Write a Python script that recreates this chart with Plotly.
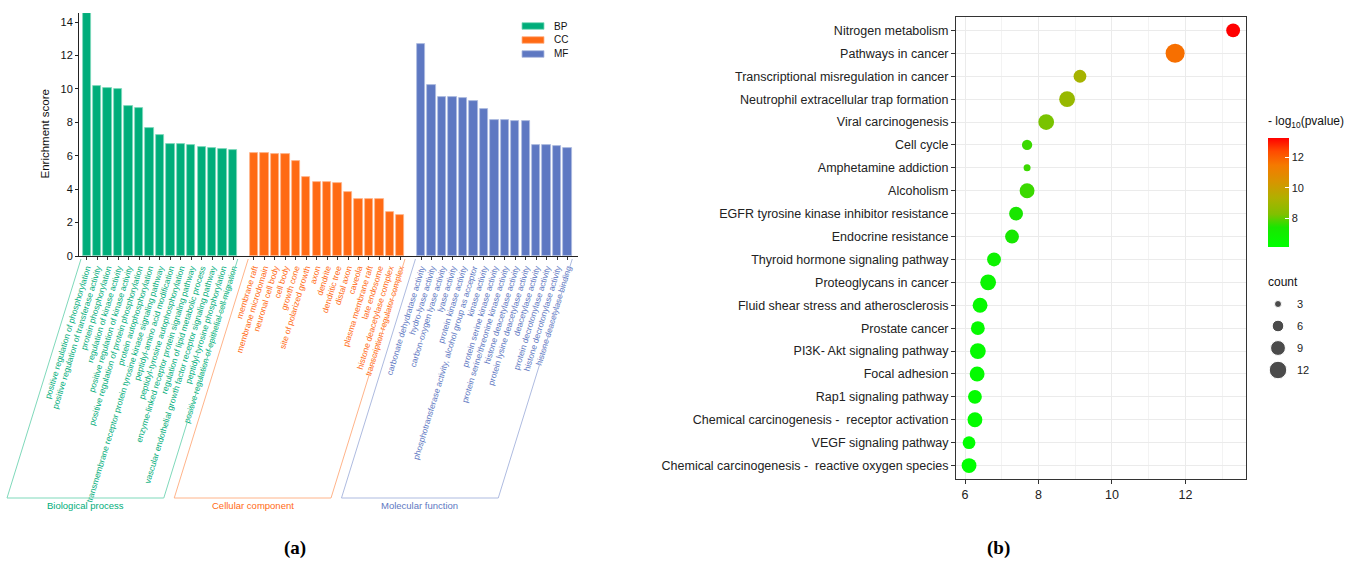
import numpy as np
import plotly.graph_objects as go

W, H = 1362, 564
FONT = "Liberation Sans, Arial, sans-serif"

# ---------------- (a) GO enrichment ----------------
bp_terms = [
    "positive regulation of phosphorylation",
    "positive regulation of transferase activity",
    "protein phosphorylation",
    "regulation of kinase activity",
    "positive regulation of kinase activity",
    "positive regulation of protein phosphorylation",
    "protein autophosphorylation",
    "transmembrane receptor protein tyrosine kinase signaling pathway",
    "peptidyl-amino acid modification",
    "peptidyl-tyrosine autophosphorylation",
    "enzyme-linked receptor protein signaling pathway",
    "regulation of lipid metabolic process",
    "vascular endothelial growth factor receptor signaling pathway",
    "peptidyl-tyrosine phosphorylation",
    "positive regulation of epithelial cell migration",
]
bp_scores = [14.54, 10.19, 10.07, 9.97, 8.99, 8.87, 7.63, 7.23, 6.69, 6.69, 6.65, 6.53, 6.45, 6.43, 6.37]

cc_terms = [
    "membrane raft",
    "membrane microdomain",
    "neuronal cell body",
    "cell body",
    "growth cone",
    "site of polarized growth",
    "axon",
    "dendrite",
    "dendritic tree",
    "distal axon",
    "caveola",
    "plasma membrane raft",
    "late endosome",
    "histone deacetylase complex",
    "transcription regulator complex",
]
cc_scores = [6.17, 6.17, 6.11, 6.11, 5.67, 4.73, 4.45, 4.43, 4.35, 3.83, 3.42, 3.42, 3.40, 2.64, 2.44]

mf_terms = [
    "carbonate dehydratase activity",
    "hydro-lyase activity",
    "carbon-oxygen lyase activity",
    "lyase activity",
    "protein kinase activity",
    "phosphotransferase activity, alcohol group as acceptor",
    "kinase activity",
    "protein serine kinase activity",
    "protein serine/threonine kinase activity",
    "histone deacetylase activity",
    "protein lysine deacetylase activity",
    "deacetylase activity",
    "protein decrotonylase activity",
    "histone decrotonylase activity",
    "histone deacetylase binding",
]
mf_scores = [12.70, 10.25, 9.49, 9.49, 9.45, 9.27, 8.79, 8.15, 8.15, 8.09, 8.09, 6.65, 6.65, 6.59, 6.49]

groups = [
    ("BP", "Biological process", bp_terms, bp_scores, "#00AD7A", "#7fd9bb"),
    ("CC", "Cellular component", cc_terms, cc_scores, "#FF6A14", "#ffb48a"),
    ("MF", "Molecular function", mf_terms, mf_scores, "#5E78C2", "#aebbe0"),
]

# ---------------- (b) KEGG dot plot ----------------
kegg_terms = [
    "Nitrogen metabolism",
    "Pathways in cancer",
    "Transcriptional misregulation in cancer",
    "Neutrophil extracellular trap formation",
    "Viral carcinogenesis",
    "Cell cycle",
    "Amphetamine addiction",
    "Alcoholism",
    "EGFR tyrosine kinase inhibitor resistance",
    "Endocrine resistance",
    "Thyroid hormone signaling pathway",
    "Proteoglycans in cancer",
    "Fluid shear stress and atherosclerosis",
    "Prostate cancer",
    "PI3K- Akt signaling pathway",
    "Focal adhesion",
    "Rap1 signaling pathway",
    "Chemical carcinogenesis - \u00a0receptor activation",
    "VEGF signaling pathway",
    "Chemical carcinogenesis - \u00a0reactive oxygen species",
]
kegg_neglog10p = [13.30, 11.72, 9.13, 8.78, 8.21, 7.69, 7.69, 7.69, 7.39, 7.28,
                  6.79, 6.63, 6.41, 6.35, 6.35, 6.33, 6.27, 6.27, 6.11, 6.11]
kegg_count = [8, 14, 7, 10, 10, 5, 3, 9, 8, 8, 8, 10, 9, 8, 10, 9, 8, 9, 7, 9]
count_breaks = [3, 6, 9, 12]

green_red = [
    [0.00, "#00FF00"], [0.18, "#19E600"], [0.30, "#80C000"], [0.45, "#B0B000"],
    [0.60, "#D89400"], [0.75, "#F57A00"], [0.88, "#FF4A00"], [1.00, "#FF0000"],
]


def dot_diameter(c):
    c = np.asarray(c, dtype=float)
    return np.sqrt(49 + (c - 3) * 28.6)


def px_x(p):
    return p / W


def px_y(p):
    return 1 - p / H


fig = go.Figure()

# ---- bars ----
positions = []
pos = 0
for key, gname, terms, scores, col, edge in groups:
    xs = list(range(pos, pos + len(terms)))
    positions.append(xs)
    fig.add_trace(go.Bar(
        x=xs, y=scores, width=0.8, name=key, showlegend=False,
        marker=dict(color=col, line=dict(color=edge, width=0.8)),
        xaxis="x", yaxis="y",
    ))
    pos += len(terms) + 1

tickvals, ticktext = [], []
for (key, gname, terms, scores, col, edge), xs in zip(groups, positions):
    tickvals += xs
    ticktext += [f'<span style="color:{col}">{t}</span>' for t in terms]

# bar axis geometry (pixels)
AX0, AX1 = 79, 578
XR = (-0.74, 47.0)
AY_TOP, AY_BOT = 13, 256


def bar_px(v):
    return AX0 + (v - XR[0]) / (XR[1] - XR[0]) * (AX1 - AX0)


# group brackets under the rotated labels
TOP_Y, BOT_Y = 259, 498
SLANT = (BOT_Y - TOP_Y) / np.tan(np.radians(72.8))
shapes = []
annotations = []
for (key, gname, terms, scores, col, edge), xs in zip(groups, positions):
    tl = bar_px(xs[0] - 0.55)
    tr = bar_px(xs[-1] + 0.45)
    bl, br = tl - SLANT, tr - SLANT
    path = (f"M {px_x(tl)},{px_y(TOP_Y)} L {px_x(bl)},{px_y(BOT_Y)} "
            f"L {px_x(br)},{px_y(BOT_Y)} L {px_x(tr)},{px_y(TOP_Y)}")
    shapes.append(dict(type="path", xref="paper", yref="paper", path=path,
                       line=dict(color=edge, width=1)))
    annotations.append(dict(xref="paper", yref="paper", x=px_x((bl + br) / 2), y=px_y(505),
                            text=gname, showarrow=False, xanchor="center", yanchor="middle",
                            font=dict(family=FONT, size=9.5, color=col)))

# manual legend for the bar groups
for i, (key, gname, terms, scores, col, edge) in enumerate(groups):
    yc = 26 + i * 14
    shapes.append(dict(type="rect", xref="paper", yref="paper",
                       x0=px_x(522), x1=px_x(544), y0=px_y(yc - 3.3), y1=px_y(yc + 3.3),
                       fillcolor=col, line=dict(color=edge, width=0.8)))
    annotations.append(dict(xref="paper", yref="paper", x=px_x(552), y=px_y(yc), text=key,
                            showarrow=False, xanchor="left", yanchor="middle",
                            font=dict(family=FONT, size=10, color="#111111")))

annotations.append(dict(xref="paper", yref="paper", x=px_x(45), y=px_y((AY_TOP + AY_BOT) / 2),
                        text="Enrichment score", textangle=-90, showarrow=False,
                        xanchor="center", yanchor="middle",
                        font=dict(family=FONT, size=11.5, color="#111111")))

# ---- dots ----
fig.add_trace(go.Scatter(
    x=kegg_neglog10p, y=kegg_terms, mode="markers", showlegend=False,
    xaxis="x2", yaxis="y2",
    marker=dict(
        size=dot_diameter(kegg_count), sizemode="diameter",
        color=kegg_neglog10p, colorscale=green_red,
        cmin=min(kegg_neglog10p), cmax=max(kegg_neglog10p),
        line=dict(width=0), opacity=1,
        colorbar=dict(
            x=px_x(1268), xanchor="left", y=px_y(192.2), yanchor="middle",
            thickness=21, thicknessmode="pixels", len=109, lenmode="pixels",
            xpad=0, ypad=0, outlinewidth=0,
            tickvals=[8, 10, 12], ticks="inside", ticklen=4, tickcolor="white",
            tickfont=dict(family=FONT, size=11, color="#222222"),
        ),
    ),
))

# size legend
fig.add_trace(go.Scatter(
    x=[0] * len(count_breaks), y=list(range(len(count_breaks))), mode="markers",
    showlegend=False, xaxis="x3", yaxis="y3", hoverinfo="skip",
    marker=dict(size=dot_diameter(count_breaks), sizemode="diameter", color="black"),
))
for i, c in enumerate(count_breaks):
    annotations.append(dict(xref="paper", yref="y3", x=px_x(1295), y=i, text=str(c),
                            showarrow=False, xanchor="left", yanchor="middle",
                            font=dict(family=FONT, size=11, color="#222222")))
annotations.append(dict(xref="paper", yref="paper", x=px_x(1266), y=px_y(122),
                        text="- log<sub>10</sub>(pvalue)", showarrow=False,
                        xanchor="left", yanchor="middle",
                        font=dict(family=FONT, size=12, color="#111111")))
annotations.append(dict(xref="paper", yref="paper", x=px_x(1266), y=px_y(282),
                        text="count", showarrow=False, xanchor="left", yanchor="middle",
                        font=dict(family=FONT, size=12, color="#111111")))

# panel labels
for lab, xc in (("(a)", 295), ("(b)", 998)):
    annotations.append(dict(xref="paper", yref="paper", x=px_x(xc), y=px_y(548),
                            text=f"<b>{lab}</b>", showarrow=False,
                            xanchor="center", yanchor="middle",
                            font=dict(family="Liberation Serif, DejaVu Serif, serif", size=19,
                                      color="#000000")))

fig.update_layout(
    width=W, height=H, margin=dict(l=0, r=0, t=0, b=0),
    paper_bgcolor="white", plot_bgcolor="white",
    bargap=0, showlegend=False,
    font=dict(family=FONT),
    shapes=shapes, annotations=annotations,
    xaxis=dict(
        domain=[px_x(AX0), px_x(AX1)], range=list(XR), anchor="y", automargin=False,
        tickmode="array", tickvals=tickvals, ticktext=ticktext, tickangle=-73,
        tickfont=dict(family=FONT, size=8.4), ticks="outside", ticklen=3,
        tickcolor="#333333", showline=True, linecolor="#222222", linewidth=1,
        showgrid=False, zeroline=False,
    ),
    yaxis=dict(
        domain=[px_y(AY_BOT), px_y(AY_TOP)], range=[0, 14.54], anchor="x", automargin=False,
        tickvals=list(range(0, 15, 2)), ticks="outside", ticklen=3, tickcolor="#222222",
        tickfont=dict(family=FONT, size=11, color="#111111"),
        showline=True, linecolor="#222222", linewidth=1, showgrid=False, zeroline=False,
    ),
    xaxis2=dict(
        domain=[px_x(956), px_x(1246)], range=[5.755, 13.65], anchor="y2", automargin=False,
        tick0=6, dtick=2, ticks="outside", ticklen=4, tickcolor="#333333",
        tickfont=dict(family=FONT, size=12.5, color="#222222"),
        showline=True, mirror=True, linecolor="#333333", linewidth=1,
        showgrid=True, gridcolor="#EBEBEB", gridwidth=1, zeroline=False,
        minor=dict(dtick=1, tick0=7, showgrid=True, gridcolor="#F3F3F3", gridwidth=0.6),
    ),
    yaxis2=dict(
        domain=[px_y(479.3), px_y(16.7)], anchor="x2", type="category", automargin=False,
        categoryorder="array", categoryarray=kegg_terms, range=[19.6, -0.6],
        ticks="outside", ticklen=4, tickcolor="#333333",
        tickfont=dict(family=FONT, size=12.5, color="#222222"),
        showline=True, mirror=True, linecolor="#333333", linewidth=1,
        showgrid=True, gridcolor="#EBEBEB", gridwidth=1, zeroline=False,
    ),
    xaxis3=dict(domain=[px_x(1268), px_x(1288)], range=[-1, 1], anchor="y3", visible=False),
    yaxis3=dict(domain=[px_y(381), px_y(293)], range=[3.5, -0.5], anchor="x3", visible=False),
)

fig.write_html("out.html")
